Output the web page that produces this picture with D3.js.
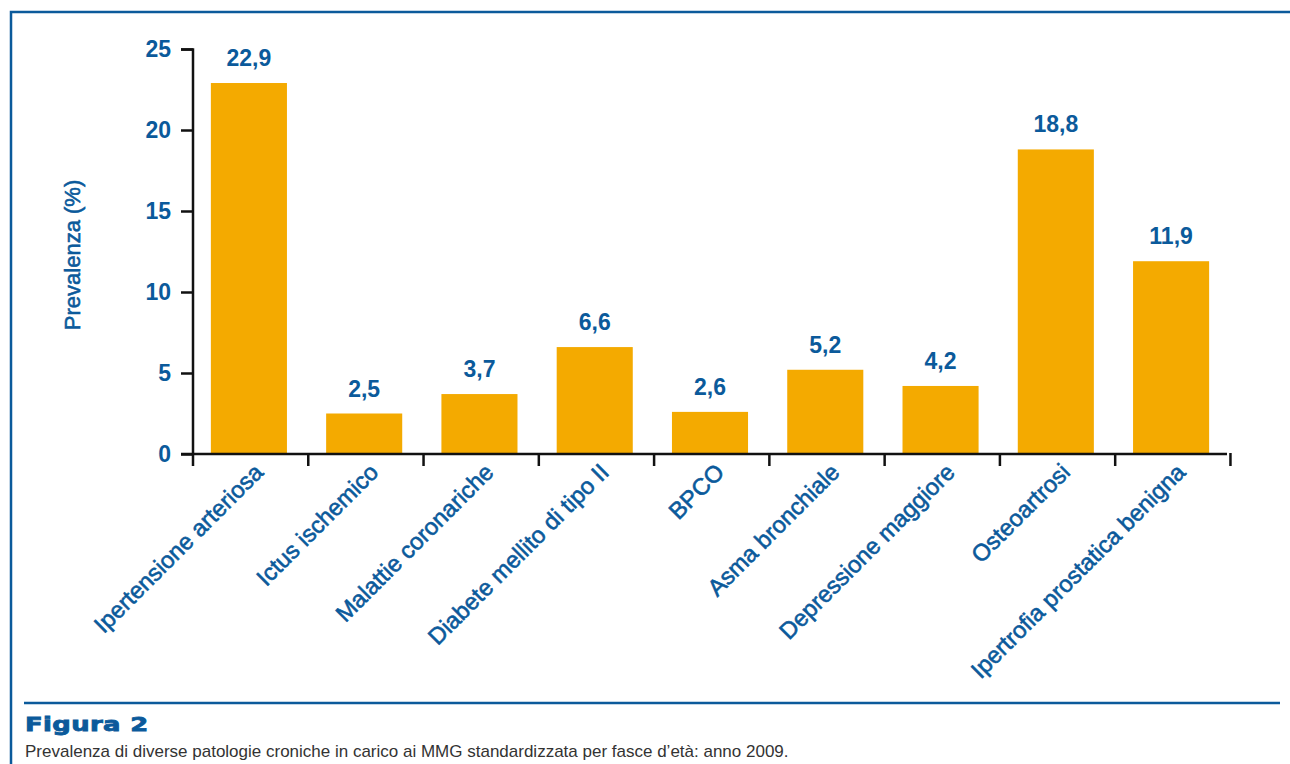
<!DOCTYPE html>
<html><head><meta charset="utf-8">
<script src="https://cdn.jsdelivr.net/npm/d3@7"></script>
<style>
body{margin:0;background:#fff;}
svg{display:block;}
</style></head>
<body>
<svg id="c" width="1290" height="764"></svg>
<script>
const categories = ["Ipertensione arteriosa","Ictus ischemico","Malattie coronariche","Diabete mellito di tipo II","BPCO","Asma bronchiale","Depressione maggiore","Osteoartrosi","Ipertrofia prostatica benigna"];
const values = [22.9,2.5,3.7,6.6,2.6,5.2,4.2,18.8,11.9];
const yTicks = [0,5,10,15,20,25];
const yTitle = "Prevalenza (%)";
const figTitle = "Figura 2";
const caption = "Prevalenza di diverse patologie croniche in carico ai MMG standardizzata per fasce d’età: anno 2009.";

const blue = "#0b5a9b", orange = "#f4aa00";
const font = "'Liberation Sans Narrow','Arial Narrow',sans-serif";
const svg = d3.select("#c");

// frame
svg.append("path").attr("d","M11,764 V12 H1290").attr("fill","none").attr("stroke",blue).attr("stroke-width",2.5);
svg.append("line").attr("x1",24).attr("x2",1280).attr("y1",703).attr("y2",703).attr("stroke",blue).attr("stroke-width",2.5);

const x = d3.scaleBand().domain(categories).range([193,1227]).paddingInner(0.34).paddingOuter(0.155);
const y = d3.scaleLinear().domain([0,25]).range([454,49]);

const g = svg.append("g");
g.selectAll("rect.bar").data(values).join("rect").attr("class","bar")
  .attr("x",(d,i)=>x(categories[i])).attr("width",x.bandwidth())
  .attr("y",d=>y(d)).attr("height",d=>y(0)-y(d)).attr("fill",orange);

g.selectAll("text.val").data(values).join("text").attr("class","val")
  .attr("x",(d,i)=>x(categories[i])+x.bandwidth()/2).attr("y",d=>y(d)-17)
  .attr("text-anchor","middle").attr("fill",blue).attr("font-family",font)
  .attr("font-weight","bold").attr("font-size",23)
  .text(d=>String(d.toFixed(1)).replace(".",","));

// y axis
const yAxis = g.append("g").attr("transform","translate(193,0)")
  .call(d3.axisLeft(y).tickValues(yTicks).tickSize(12).tickPadding(10).tickFormat(d=>d));
yAxis.selectAll("path,line").attr("stroke","#111").attr("stroke-width",2.5);
yAxis.select(".domain").attr("d","M-12,49.5H0V454");
yAxis.selectAll("text").attr("fill",blue).attr("font-family",font).attr("font-size",23).attr("font-weight","bold");

// x axis
const step = x.step();
const xEdges = d3.range(categories.length+1).map(i=>193+i*step);
const xa = g.append("g");
xa.append("line").attr("x1",181).attr("x2",1227).attr("y1",454).attr("y2",454).attr("stroke","#111").attr("stroke-width",2.5);
xa.selectAll("line.t").data(xEdges).join("line").attr("class","t")
  .attr("x1",d=>d).attr("x2",d=>d).attr("y1",453).attr("y2",466).attr("stroke","#111").attr("stroke-width",2.5);

g.selectAll("text.cat").data(categories).join("text").attr("class","cat")
  .attr("transform",d=>`translate(${x(d)+x.bandwidth()/2+4},${462}) rotate(-45)`)
  .attr("text-anchor","end").attr("dy","0.7em").attr("fill",blue).attr("font-family",font).attr("font-size",23.5)
  .attr("stroke",blue).attr("stroke-width",0.6)
  .text(d=>d);

svg.append("text").attr("transform","translate(80,255) rotate(-90)").attr("text-anchor","middle")
  .attr("fill",blue).attr("font-family",font).attr("font-size",22).attr("stroke",blue).attr("stroke-width",0.6).text(yTitle);

svg.append("text").attr("transform","translate(25,731) scale(1.36,1)").attr("fill",blue)
  .attr("font-family","'DejaVu Sans',sans-serif").attr("font-weight","bold").attr("font-size",19)
  .attr("stroke",blue).attr("stroke-width",0.8).attr("letter-spacing",0.3).text(figTitle);
svg.append("text").attr("x",25).attr("y",757).attr("fill","#333")
  .attr("font-family",font).attr("font-size",17).text(caption);
</script>
</body></html>
